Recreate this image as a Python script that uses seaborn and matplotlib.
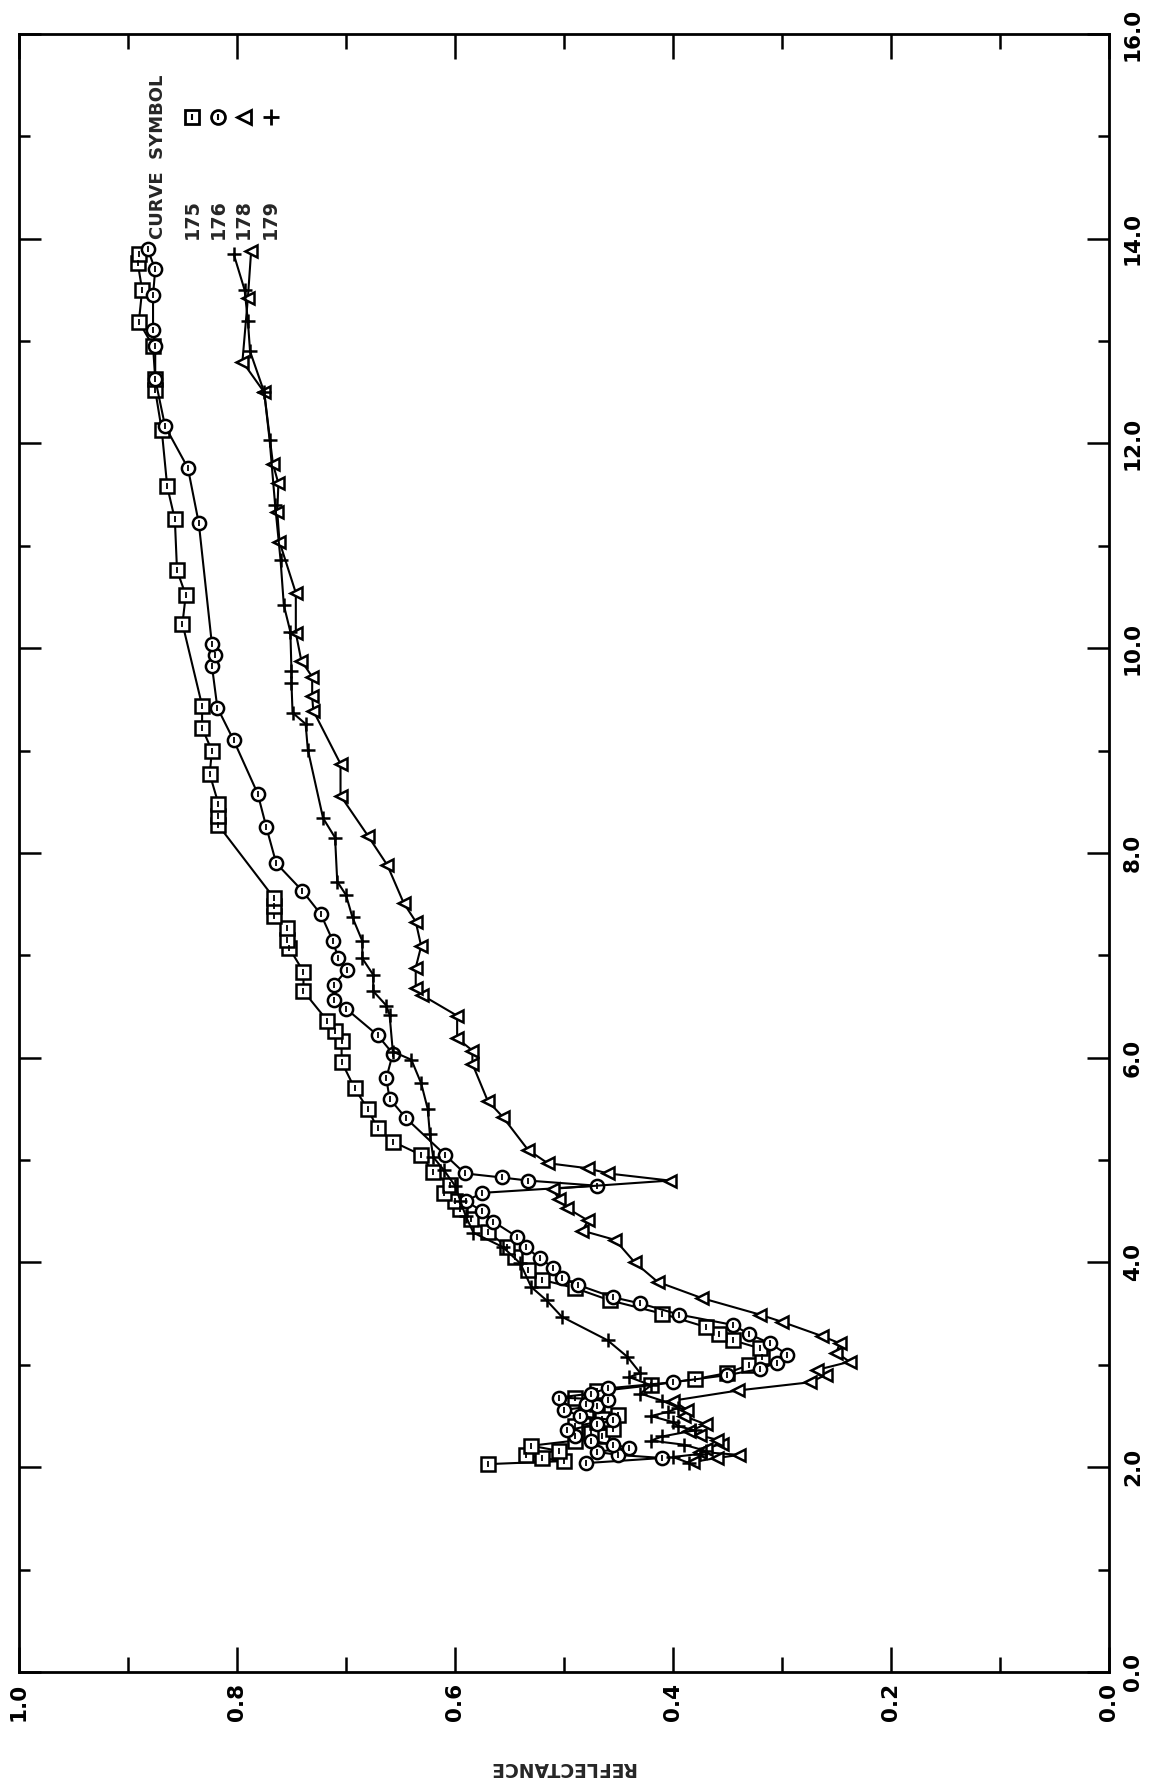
import matplotlib
matplotlib.use("Agg")
import matplotlib.pyplot as plt
import seaborn as sns
import pandas as pd
from matplotlib.ticker import MultipleLocator, FormatStrFormatter

# ---------------- data (wavelength w, reflectance r) ----------------
w175 = [2.03, 2.06, 2.09, 2.12, 2.16, 2.21, 2.26, 2.30, 2.33, 2.37, 2.40, 2.44, 2.47, 2.51, 2.55,
        2.62, 2.68, 2.74, 2.80, 2.86, 2.92, 3.00, 3.08, 3.16, 3.24, 3.30, 3.37, 3.50, 3.63, 3.75,
        3.83, 3.93, 4.05, 4.15, 4.30, 4.42, 4.52, 4.60, 4.68, 4.76, 4.88, 5.05, 5.18, 5.31, 5.50,
        5.70, 5.96, 6.16, 6.26, 6.36, 6.65, 6.84, 7.07, 7.15, 7.27, 7.38, 7.48, 7.56, 8.27, 8.36,
        8.48, 8.77, 9.00, 9.22, 9.44, 10.24, 10.52, 10.76, 11.26, 11.58, 12.13, 12.52, 12.63,
        12.95, 13.19, 13.50, 13.76, 13.85]
r175 = [0.57, 0.50, 0.52, 0.535, 0.505, 0.53, 0.49, 0.465, 0.475, 0.455, 0.49, 0.47, 0.465, 0.45, 0.48,
        0.47, 0.49, 0.47, 0.42, 0.38, 0.35, 0.33, 0.318, 0.32, 0.345, 0.358, 0.37, 0.41, 0.458, 0.49,
        0.52, 0.533, 0.545, 0.552, 0.57, 0.585, 0.595, 0.60, 0.61, 0.605, 0.62, 0.631, 0.657, 0.671, 0.68,
        0.692, 0.704, 0.704, 0.71, 0.717, 0.739, 0.739, 0.752, 0.754, 0.754, 0.766, 0.766, 0.766, 0.817, 0.817,
        0.817, 0.825, 0.823, 0.832, 0.832, 0.85, 0.847, 0.855, 0.857, 0.864, 0.869, 0.875, 0.875,
        0.877, 0.89, 0.887, 0.891, 0.89]

w176 = [2.04, 2.09, 2.12, 2.15, 2.19, 2.22, 2.26, 2.30, 2.36, 2.42, 2.46, 2.50, 2.56, 2.60, 2.62,
        2.66, 2.68, 2.72, 2.77, 2.83, 2.90, 2.96, 3.02, 3.10, 3.21, 3.30, 3.39, 3.49, 3.60, 3.66,
        3.78, 3.85, 3.95, 4.04, 4.15, 4.25, 4.40, 4.50, 4.60, 4.68, 4.75, 4.80, 4.83, 4.87, 5.05,
        5.41, 5.60, 5.80, 6.04, 6.22, 6.48, 6.56, 6.71, 6.86, 6.97, 7.14, 7.40, 7.63, 7.90, 8.25,
        8.58, 9.10, 9.42, 9.83, 9.93, 10.04, 11.22, 11.76, 12.17, 12.63, 12.95, 13.11, 13.45,
        13.70, 13.90]
r176 = [0.48, 0.41, 0.45, 0.47, 0.44, 0.455, 0.475, 0.49, 0.497, 0.47, 0.455, 0.485, 0.50, 0.47, 0.48,
        0.46, 0.505, 0.475, 0.46, 0.40, 0.35, 0.32, 0.305, 0.295, 0.311, 0.33, 0.345, 0.394, 0.43, 0.455,
        0.487, 0.502, 0.51, 0.522, 0.535, 0.543, 0.565, 0.575, 0.59, 0.575, 0.47, 0.533, 0.557, 0.591, 0.609,
        0.645, 0.66, 0.663, 0.657, 0.671, 0.70, 0.711, 0.711, 0.699, 0.707, 0.712, 0.723, 0.74, 0.764, 0.773,
        0.781, 0.803, 0.818, 0.823, 0.82, 0.823, 0.835, 0.845, 0.866, 0.875, 0.875, 0.877, 0.877,
        0.875, 0.882]

w178 = [2.05, 2.09, 2.12, 2.15, 2.18, 2.23, 2.27, 2.31, 2.35, 2.42, 2.50, 2.56, 2.65, 2.75,
        2.83, 2.90, 2.95, 3.03, 3.12, 3.21, 3.28, 3.42, 3.49, 3.65, 3.81, 4.00, 4.22, 4.31, 4.41,
        4.53, 4.62, 4.72, 4.80, 4.87, 4.92, 4.97, 5.10, 5.42, 5.58, 5.94, 6.07, 6.19, 6.41, 6.61,
        6.68, 6.88, 7.09, 7.33, 7.51, 7.88, 8.17, 8.56, 8.87, 9.39, 9.53, 9.72, 9.88, 10.15, 10.54,
        11.04, 11.33, 11.61, 11.80, 12.50, 12.80, 13.42, 13.88]
r178 = [0.382, 0.36, 0.339, 0.375, 0.37, 0.355, 0.36, 0.375, 0.385, 0.37, 0.39, 0.387, 0.40, 0.34,
        0.274, 0.26, 0.268, 0.238, 0.25, 0.247, 0.263, 0.30, 0.32, 0.373, 0.414, 0.435, 0.453, 0.483, 0.478,
        0.497, 0.505, 0.51, 0.403, 0.46, 0.478, 0.515, 0.533, 0.556, 0.570, 0.584, 0.584, 0.598, 0.598, 0.63,
        0.636, 0.636, 0.631, 0.636, 0.647, 0.662, 0.68, 0.705, 0.705, 0.73, 0.731, 0.731, 0.741, 0.746, 0.746,
        0.761, 0.763, 0.762, 0.767, 0.775, 0.795, 0.79, 0.787]

w179 = [2.04, 2.10, 2.13, 2.16, 2.22, 2.26, 2.30, 2.36, 2.40, 2.44, 2.50, 2.54, 2.58, 2.65,
        2.72, 2.80, 2.88, 2.92, 3.08, 3.24, 3.47, 3.63, 3.76, 3.99, 4.15, 4.29, 4.45, 4.60, 4.75,
        4.90, 5.03, 5.25, 5.50, 5.75, 5.98, 6.06, 6.42, 6.51, 6.65, 6.81, 6.97, 7.14, 7.37, 7.59,
        7.72, 8.15, 8.34, 9.01, 9.26, 9.37, 9.66, 9.78, 10.16, 10.42, 10.86, 11.40, 12.03, 12.50,
        12.90, 13.20, 13.50, 13.85]
r179 = [0.385, 0.40, 0.375, 0.37, 0.39, 0.42, 0.41, 0.38, 0.395, 0.40, 0.42, 0.405, 0.395, 0.41,
        0.43, 0.42, 0.44, 0.43, 0.442, 0.46, 0.502, 0.516, 0.53, 0.54, 0.556, 0.583, 0.59, 0.595, 0.60,
        0.61, 0.62, 0.623, 0.625, 0.631, 0.64, 0.657, 0.66, 0.663, 0.675, 0.675, 0.685, 0.685, 0.694, 0.70,
        0.708, 0.71, 0.721, 0.735, 0.737, 0.749, 0.75, 0.75, 0.751, 0.757, 0.76, 0.765, 0.77, 0.775,
        0.788, 0.79, 0.793, 0.803]

curve_ids = ["175", "176", "178", "179"]
x_ticks = [0.0, 0.2, 0.4, 0.6, 0.8, 1.0]
y_ticks = [0.0, 2.0, 4.0, 6.0, 8.0, 10.0, 12.0, 14.0, 16.0]
x_label = "REFLECTANCE"
legend_title = "CURVE  SYMBOL"

# ---------------- style ----------------
sns.set_style("white")
plt.rcParams["font.family"] = ["DejaVu Sans"]
plt.rcParams["font.weight"] = "bold"
plt.rcParams["axes.linewidth"] = 2.0

fig = plt.figure(figsize=(11.5, 17.88), dpi=100)
ax = fig.add_axes([0.0165, 0.0649, 0.9478, 0.9161])

series = [(w175, r175, "s", 9.5), (w176, r176, "o", 9.5), (w178, r178, "<", 9), (w179, r179, "+", 10)]
for (w, r, mk, ms), cid in zip(series, curve_ids):
    df = pd.DataFrame({"w": w, "r": r})
    if mk == "+":
        sns.lineplot(data=df, x="r", y="w", sort=False, estimator=None, ax=ax,
                     color="black", linewidth=1.5, marker="+", markersize=ms,
                     markeredgewidth=1.8, markeredgecolor="black")
    else:
        sns.lineplot(data=df, x="r", y="w", sort=False, estimator=None, ax=ax,
                     color="black", linewidth=1.5, marker=mk, markersize=ms,
                     markerfacecolor="white", markeredgecolor="black",
                     markeredgewidth=1.8)
        if mk in ("s", "o"):
            ax.plot(r, w, linestyle="none", marker="|", markersize=5,
                    markeredgewidth=1.3, color="black")

ax.set_xlim(1.0, 0.0)
ax.set_ylim(0.0, 16.0)

# ticks
ax.xaxis.set_minor_locator(MultipleLocator(0.1))
ax.yaxis.set_minor_locator(MultipleLocator(1.0))
ax.set_xticks(x_ticks)
ax.set_yticks(y_ticks)
ax.xaxis.set_major_formatter(FormatStrFormatter("%.1f"))
ax.yaxis.set_major_formatter(FormatStrFormatter("%.1f"))

ax.tick_params(axis="x", which="both", direction="in", top=True, bottom=True,
               labelbottom=True, labeltop=False, width=1.8, colors="black")
ax.tick_params(axis="x", which="major", length=18, pad=8, labelsize=15.5, labelrotation=90)
ax.tick_params(axis="x", which="minor", length=11)
ax.tick_params(axis="y", which="both", direction="in", left=True, right=True,
               labelleft=False, labelright=True, width=1.8, colors="black")
ax.tick_params(axis="y", which="major", length=16, pad=10, labelsize=15.5, labelrotation=90)
ax.tick_params(axis="y", which="minor", length=8)
for lab in ax.get_yticklabels():
    lab.set_va("center")
    lab.set_ha("left")
    lab.set_fontweight("bold")
for lab in ax.get_xticklabels():
    lab.set_fontweight("bold")

for s in ax.spines.values():
    s.set_color("black")
    s.set_linewidth(2.0)

ax.set_ylabel("")
ax.set_xlabel(x_label, rotation=180, fontsize=13.5, fontweight="bold", va="center", ha="center")
ax.xaxis.set_label_coords(0.498, -0.0586)

# legend block (rotated like the rest of the sheet)
ax.text(0.872, 14.0, legend_title, rotation=90, ha="center", va="bottom",
        fontsize=13, fontweight="bold")
leg_r = [0.841, 0.817, 0.794, 0.769]
leg_mk = ["s", "o", "<", "+"]
for xr, cid, mk in zip(leg_r, curve_ids, leg_mk):
    ax.text(xr, 14.0, cid, rotation=90, ha="center", va="bottom", fontsize=13.8,
            fontweight="bold")
    if mk == "+":
        ax.plot([xr], [15.19], marker="+", markersize=12, markeredgewidth=2.0,
                color="black", linestyle="none")
    else:
        ax.plot([xr], [15.19], marker=mk, markersize=10, markerfacecolor="white",
                markeredgecolor="black", markeredgewidth=2.0, linestyle="none")
        if mk in ("s", "o"):
            ax.plot([xr], [15.19], marker="|", markersize=5, markeredgewidth=1.5,
                    color="black", linestyle="none")

fig.savefig("out.png", dpi=100, facecolor="white")
